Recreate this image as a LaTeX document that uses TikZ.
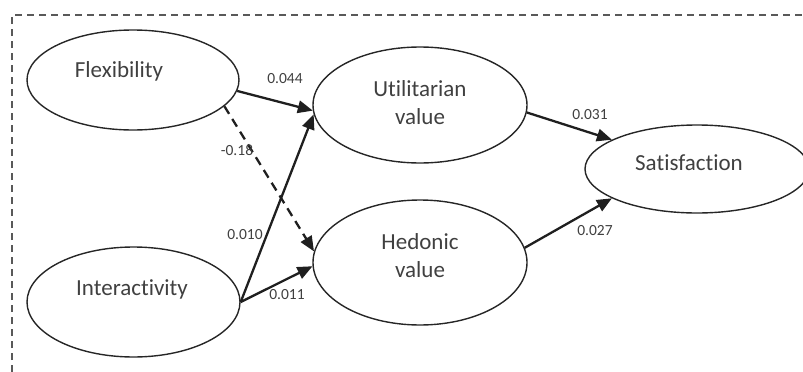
\documentclass[tikz,border=0pt]{standalone}
\usepackage{fontspec}
\setmainfont{Carlito}[Ligatures=NoCommon]
\usetikzlibrary{shapes.geometric,arrows.meta}
\begin{document}
\begin{tikzpicture}[x=1pt,y=-1pt,
  latent/.style={draw=black!85,line width=1.4pt,ellipse,inner sep=0pt},
  lbl/.style={font=\fontsize{23}{28}\selectfont,text=black!75,align=center,inner sep=0pt},
  coef/.style={font=\fontsize{15.5}{18}\selectfont,text=black!75,inner sep=0pt},
  pathar/.style={line width=2.3pt,draw=black!88,-{Triangle[length=15pt,width=12.5pt]}},
  framebox/.style={line width=1.5pt,draw=black!65,dash pattern=on 7pt off 5pt}]
\useasboundingbox (0,0) rectangle (803,372);
% frame
\draw[framebox] (12,372) -- (12,15) -- (803,15);
% latent variables
\node[latent,minimum width=212pt,minimum height=100pt] (flex) at (133,80) {};
\node[latent,minimum width=213pt,minimum height=110pt] (inter) at (133.5,302) {};
\node[latent,minimum width=214pt,minimum height=116pt] (util) at (420,105) {};
\node[latent,minimum width=214pt,minimum height=125pt] (hed) at (420,262.5) {};
\node[latent,minimum width=224pt,minimum height=88pt] (sat) at (697,169) {};
% texts
\node[lbl,anchor=base] (tflex) at (119,77) {Flexibility};
\node[lbl,anchor=base] (tinter) at (132,295) {Interactivity};
\node[lbl] (tutil) at (420,103) {Utilitarian\\value};
\node[lbl] (thed) at (420,256) {Hedonic\\value};
\node[lbl,anchor=base] (tsat) at (689,170) {Satisfaction};
% paths
\draw[pathar] (flex.-6.5) -- (util.183.7);
\draw[pathar,dash pattern=on 9pt off 6pt] (flex.-16) -- (hed.174.4);
\draw[pathar] (inter.0) -- (util.185.3);
\draw[pathar] (inter.0) -- (hed.182.9);
\draw[pathar] (util.-4.3) -- (sat.161);
\draw[pathar] (hed.8.6) -- (sat.199);
% coefficients
\node[coef] (c1) at (285,79) {0.044};
\node[coef] (c2) at (237,150) {-0.18};
\node[coef] (c3) at (245,235) {0.010};
\node[coef] (c4) at (287,295) {0.011};
\node[coef] (c5) at (590,115) {0.031};
\node[coef] (c6) at (595,231) {0.027};
\end{tikzpicture}
\end{document}
